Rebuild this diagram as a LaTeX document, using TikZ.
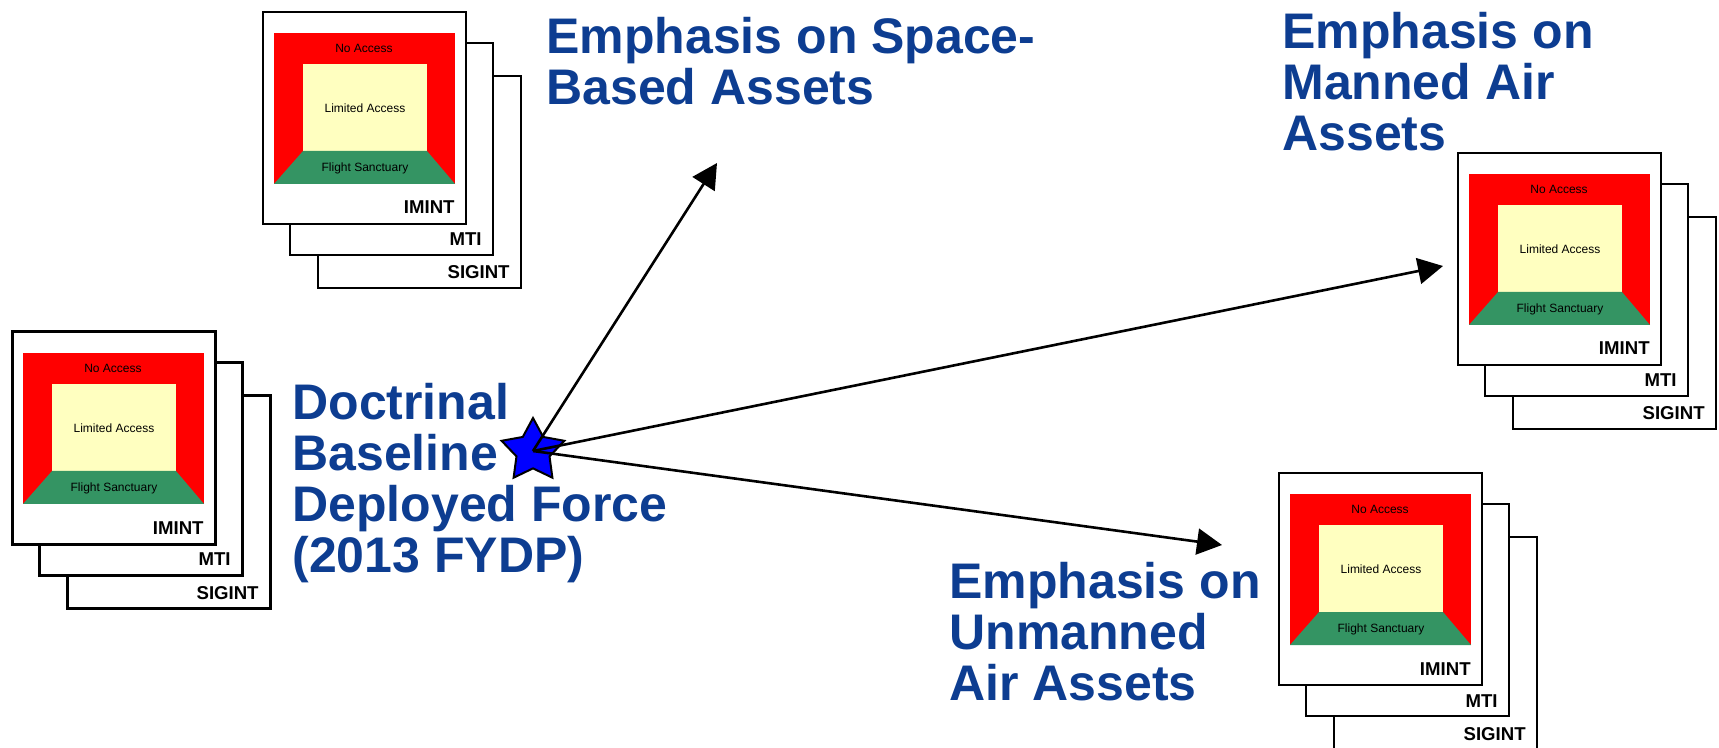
\documentclass[tikz,border=0pt]{standalone}
\usepackage{fontspec}
\setmainfont{Liberation Sans}
\usetikzlibrary{shapes.geometric, arrows.meta}
\definecolor{titleblue}{RGB}{13,61,145}
\definecolor{myred}{RGB}{255,0,0}
\definecolor{myyellow}{RGB}{255,255,192}
\definecolor{mygreen}{RGB}{52,148,99}
\tikzset{
    mycard/.style = {
        draw=black,
        fill=white
    },
    mylabel/.style = {
        font=\fontsize{6}{7}\selectfont,
        inner sep=0pt
    },
    mytag/.style = {
        font=\fontsize{9.3}{10}\selectfont\bfseries,
        inner sep=0pt,
        anchor=base east
    },
    mytitle/.style = {
        font=\fontsize{25}{25.5}\selectfont\bfseries,
        text=titleblue,
        align=left,
        anchor=north west,
        inner sep=0pt
    },
    mystar/.style = {
        star,
        star points=5,
        star point ratio=1.9,
        minimum size=33pt,
        inner sep=0pt,
        draw=black,
        fill=blue,
        line width=1pt
    },
    myarrow/.style = {
        line width=1.3pt,
        -{Triangle[length=12.5pt, width=13pt]}
    },
    pics/cardstack/.style = {code={
        \draw [mycard, line width=#1] (55,64) rectangle ++(203,212);
        \node [mytag] (-sigint) at (247,267) {SIGINT};
        \draw [mycard, line width=#1] (27,31) rectangle ++(203,212);
        \node [mytag] (-mti) at (219,234) {MTI};
        \draw [mycard, line width=#1] (0,0) rectangle (203,212);
        \fill [myred] (11,21) rectangle (192,172);
        \fill [myyellow] (40,52) rectangle (164,139);
        \fill [mygreen] (40,139) -- (164,139) -- (192,172) -- (11,172) -- cycle;
        \node [mylabel] (-no) at (101,36) {No Access};
        \node [mylabel] (-lim) at (102,96) {Limited Access};
        \node [mylabel] (-fly) at (102,156) {Flight Sanctuary};
        \node [mytag] (-imint) at (192,202) {IMINT};
    }}
}

\begin{document}
\begin{tikzpicture}[x=0.5pt, y=-0.5pt]
\useasboundingbox (0,0) rectangle (1719,748);

% Pilhas de cartoes
\pic (base) at (12,332) {cardstack=1.5pt};
\pic (space) at (263,12) {cardstack=0.75pt};
\pic (manned) at (1458,153) {cardstack=0.75pt};
\pic (unmanned) at (1279,473) {cardstack=0.75pt};

% Textos
\node [mytitle] (baseline) at (292,383) {Doctrinal\\Baseline\\Deployed Force\\(2013 FYDP)};
\node [mytitle] (spacetext) at (546,17) {Emphasis on Space-\\Based Assets};
\node [mytitle] (mannedtext) at (1282,12) {Emphasis on\\Manned Air\\Assets};
\node [mytitle] (unmannedtext) at (949,562) {Emphasis on\\Unmanned\\Air Assets};

% Estrela e setas
\node [mystar] (star) at (533,451) {};
\coordinate (spacetip) at (717,163);
\coordinate (mannedtip) at (1443,266);
\coordinate (unmannedtip) at (1222,545);
\draw [myarrow] (star.center) -- (spacetip);
\draw [myarrow] (star.center) -- (mannedtip);
\draw [myarrow] (star.center) -- (unmannedtip);

\end{tikzpicture}
\end{document}
